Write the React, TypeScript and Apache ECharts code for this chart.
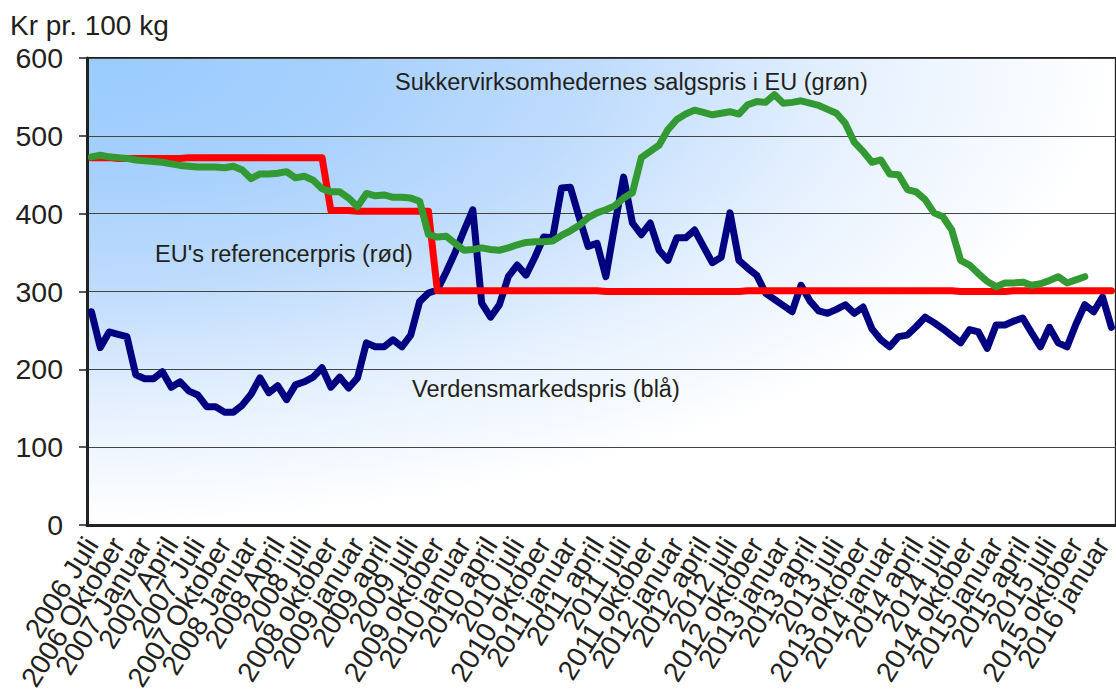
import React, { useEffect, useRef } from 'react';
import * as echarts from 'echarts';

// Monthly categories: 2006-07 .. 2016-02 (116 months)
const months: string[] = [];
for (let y = 2006, m = 7, k = 0; k < 116; k++) {
  months.push(`${y}-${String(m).padStart(2, '0')}`);
  m++;
  if (m > 12) { m = 1; y++; }
}

const tickLabels: string[] = [
  '2006 Juli', '2006 Oktober', '2007 Januar', '2007 April', '2007 Juli', '2007 Oktober',
  '2008 Januar', '2008 April', '2008 juli', '2008 oktober', '2009 januar', '2009 april',
  '2009 juli', '2009 oktober', '2010 januar', '2010 april', '2010 juli', '2010 oktober',
  '2011 januar', '2011 april', '2011 juli', '2011 oktober', '2012 januar', '2012 april',
  '2012 juli', '2012 oktober', '2013 januar', '2013 april', '2013 juli', '2013 oktober',
  '2014 januar', '2014 april', '2014 juli', '2014 oktober', '2015 januar', '2015 april',
  '2015 juli', '2015 oktober', '2016 januar',
];

// Verdensmarkedspris (blå)
const worldPrice: number[] = [
  274, 228, 248, 245, 242, 193, 188, 188, 197, 177,
  184, 172, 167, 152, 152, 145, 145, 154, 168, 189,
  170, 179, 161, 180, 184, 190, 202, 177, 190, 176,
  189, 234, 229, 229, 238, 229, 244, 287, 298, 302,
  325, 350, 378, 405, 285, 267, 283, 319, 334, 321,
  344, 370, 369, 433, 434, 395, 358, 362, 319, 385,
  447, 388, 373, 388, 353, 340, 369, 369, 379, 358,
  337, 344, 401, 340, 330, 321, 298, 290, 282, 274,
  308, 288, 275, 272, 277, 283, 272, 280, 252, 238,
  229, 242, 244, 255, 267, 260, 252, 243, 234, 251,
  248, 227, 257, 257, 262, 266, 247, 229, 254, 234,
  229, 258, 283, 274, 293, 254,
];

// EU's referencerpris (rød)
const refPrice: number[] = [
  472, 472, 472, 471, 471, 471, 471, 471, 471, 471,
  471, 472, 472, 472, 472, 472, 472, 472, 472, 472,
  472, 472, 472, 472, 472, 472, 472, 404, 404, 404,
  403, 403, 403, 403, 403, 403, 403, 403, 403, 301,
  301, 301, 301, 301, 301, 301, 301, 301, 301, 301,
  301, 301, 301, 301, 301, 301, 301, 301, 300, 300,
  300, 300, 300, 300, 300, 300, 300, 300, 300, 300,
  300, 300, 300, 300, 301, 301, 301, 301, 301, 301,
  301, 301, 301, 301, 301, 301, 301, 301, 301, 301,
  301, 301, 301, 301, 301, 301, 301, 301, 300, 300,
  300, 300, 300, 300, 301, 301, 301, 301, 301, 301,
  301, 301, 301, 301, 301, 301,
];

// Sukkervirksomhedernes salgspris i EU (grøn)
const euSalesPrice: number[] = [
  473, 475, 473, 472, 471, 469, 468, 467, 466, 464,
  462, 461, 460, 460, 460, 459, 461, 456, 445, 451,
  451, 452, 454, 446, 448, 443, 432, 428, 428, 420,
  409, 426, 423, 424, 421, 421, 420, 416, 373, 370,
  371, 362, 353, 354, 356, 354, 353, 356, 360, 363,
  364, 364, 365, 372, 378, 385, 395, 401, 405, 410,
  420, 427, 472, 480, 488, 508, 521, 528, 533, 530,
  527, 529, 531, 528, 540, 544, 543, 553, 542, 543,
  545, 542, 539, 534, 529, 516, 492, 480, 466, 469,
  451, 450, 431, 428, 418, 401, 396, 379, 340, 334,
  323, 313, 306, 311, 311, 312, 308, 310, 314, 319,
  311, 315, 319,
];

const FONT = '"Liberation Sans", Arial, Helvetica, sans-serif';
const TEXT_COLOR = '#231f20';

export default function App() {
  const ref = useRef<HTMLDivElement>(null);

  useEffect(() => {
    if (!ref.current) return;
    const chart = echarts.init(ref.current, null, { renderer: 'svg' });
    const quarter = (i: number) => i % 3 === 0;
    chart.setOption({
      animation: false,
      textStyle: { fontFamily: FONT },
      grid: {
        left: 87,
        top: 58,
        right: 0,
        bottom: 175,
        show: true,
        borderColor: '#222',
        borderWidth: 2,
        backgroundColor: {
          type: 'radial',
          x: 0,
          y: 0,
          r: 1,
          colorStops: [
            { offset: 0, color: '#99ccff' },
            { offset: 0.25, color: '#a6d0fd' },
            { offset: 0.5, color: '#c0dcfd' },
            { offset: 0.75, color: '#e6f1fe' },
            { offset: 1, color: '#ffffff' },
          ],
        },
      },
      xAxis: {
        type: 'category',
        data: months,
        boundaryGap: true,
        axisLine: { lineStyle: { color: '#222', width: 3 } },
        axisTick: { interval: quarter, length: 8, lineStyle: { color: '#222', width: 1.5 } },
        axisLabel: {
          interval: 0,
          hideOverlap: false,
          rotate: 58,
          margin: 15,
          fontSize: 28,
          color: TEXT_COLOR,
          fontFamily: FONT,
          formatter: (_v: string, i: number) => (i % 3 === 0 ? tickLabels[i / 3] ?? '' : ''),
        },
        splitLine: { show: false },
      },
      yAxis: {
        type: 'value',
        min: 0,
        max: 600,
        interval: 100,
        axisLine: { show: true, lineStyle: { color: '#222', width: 3 } },
        axisTick: { show: true, length: 8, lineStyle: { color: '#222', width: 1.5 } },
        axisLabel: { fontSize: 28.5, color: TEXT_COLOR, margin: 24, fontFamily: FONT },
        splitLine: { lineStyle: { color: '#444', width: 1 } },
      },
      series: [
        {
          type: 'line',
          name: 'Verdensmarkedspris',
          data: worldPrice,
          symbol: 'none',
          z: 2,
          itemStyle: { color: '#000080' },
          lineStyle: { color: '#000080', width: 7, join: 'round', cap: 'round' },
        },
        {
          type: 'line',
          name: "EU's referencerpris",
          data: refPrice,
          symbol: 'none',
          z: 3,
          itemStyle: { color: '#ff0000' },
          lineStyle: { color: '#ff0000', width: 7, join: 'round', cap: 'round' },
        },
        {
          type: 'line',
          name: 'Sukkervirksomhedernes salgspris i EU',
          data: euSalesPrice,
          symbol: 'none',
          z: 4,
          itemStyle: { color: '#339933' },
          lineStyle: { color: '#339933', width: 7, join: 'round', cap: 'round' },
        },
      ],
      graphic: [
        {
          type: 'text', left: 10, top: 11,
          style: { text: 'Kr pr. 100 kg', fontSize: 28, fontFamily: FONT, fill: TEXT_COLOR },
        },
        {
          type: 'text', left: 395, top: 70,
          style: { text: 'Sukkervirksomhedernes salgspris i EU (grøn)', fontSize: 23.5, fontFamily: FONT, fill: TEXT_COLOR },
        },
        {
          type: 'text', left: 155, top: 242,
          style: { text: "EU's referencerpris (rød)", fontSize: 23.5, fontFamily: FONT, fill: TEXT_COLOR },
        },
        {
          type: 'text', left: 412, top: 377,
          style: { text: 'Verdensmarkedspris (blå)', fontSize: 23.5, fontFamily: FONT, fill: TEXT_COLOR },
        },
      ],
    });
    return () => chart.dispose();
  }, []);

  return <div ref={ref} style={{ width: 1116, height: 700, position: 'absolute', left: 0, top: 0 }} />;
}
